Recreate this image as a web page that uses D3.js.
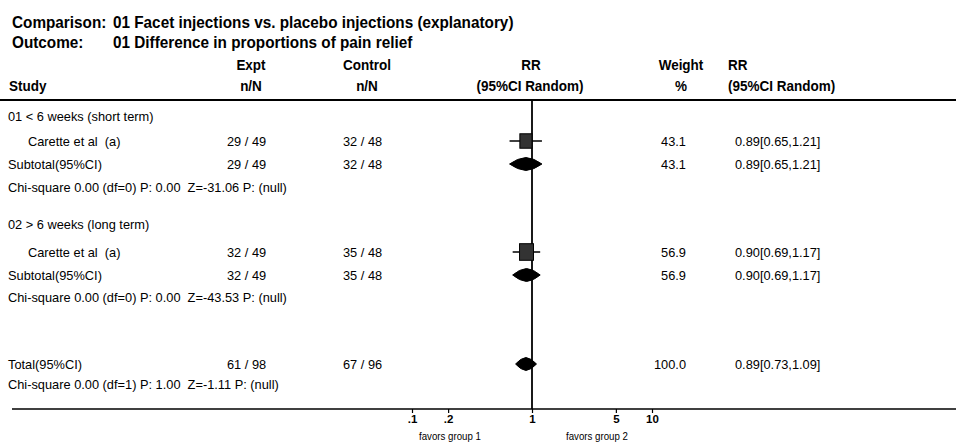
<!DOCTYPE html>
<html lang="en">
<head>
  <meta charset="UTF-8">
  <title>Facet injections vs. placebo injections</title>
  <script src="https://d3js.org/d3.v7.min.js"></script>
  <style>
    body { margin: 0; background: #fff; }
    svg text { fill: #000; white-space: pre; }
  </style>
</head>
<body>
  <svg width="956" height="443"></svg>

  <script>
    // Data
    const groupLabels = ["01 < 6 weeks (short term)", "02 > 6 weeks (long term)"];
    const studyLabels = ["Carette et al  (a)", "Carette et al  (a)"];
    const exptEvents = [29, 32];
    const exptTotal = [49, 49];
    const ctrlEvents = [32, 35];
    const ctrlTotal = [48, 48];
    const studyRR = [0.89, 0.90];
    const studyLo = [0.65, 0.69];
    const studyHi = [1.21, 1.17];
    const studyWeight = [43.1, 56.9];
    const chiTexts = [
      "Chi-square 0.00 (df=0) P: 0.00  Z=-31.06 P: (null)",
      "Chi-square 0.00 (df=0) P: 0.00  Z=-43.53 P: (null)"
    ];

    // Overall total
    const totalExpt = [61, 98];
    const totalCtrl = [67, 96];
    const totalRR = [0.89, 0.73, 1.09];
    const totalWeight = 100.0;
    const totalChi = "Chi-square 0.00 (df=1) P: 1.00  Z=-1.11 P: (null)";

    const tickValues = [0.1, 0.2, 1, 5, 10];
    const tickLabels = [".1", ".2", "1", "5", "10"];

    const svg = d3.select("svg");
    const font = "'Liberation Sans', Arial, sans-serif";

    // squeeze bold text horizontally so it looks like a narrow face
    function condense(sel, k) {
      sel.each(function () {
        const len = this.getComputedTextLength();
        d3.select(this).attr("textLength", len * k).attr("lengthAdjust", "spacingAndGlyphs");
      });
    }

    // Log scale for the RR axis
    const x = d3.scaleLog().domain([0.1, 10]).range([412, 652]);

    // Row positions (vertical centres)
    const rowY = {
      g0: 116, s0: 141, sub0: 164, chi0: 187,
      g1: 224, s1: 252, sub1: 275, chi1: 297,
      tot: 364, chiT: 384
    };

    const fmt2 = d3.format(".2f");
    const rrText = (m, l, h) => fmt2(m) + "[" + fmt2(l) + "," + fmt2(h) + "]";

    // Titles
    const title = svg.append("g")
      .style("font-family", font).style("font-weight", "bold").style("font-size", "17px");
    title.append("text").attr("x", 12).attr("y", 28).text("Comparison:");
    title.append("text").attr("x", 113).attr("y", 28).text("01 Facet injections vs. placebo injections (explanatory)");
    title.append("text").attr("x", 12).attr("y", 48).text("Outcome:");
    title.append("text").attr("x", 113).attr("y", 48).text("01 Difference in proportions of pain relief");
    condense(title.selectAll("text"), 0.9);

    // Column headers
    const hdr = svg.append("g")
      .style("font-family", font).style("font-weight", "bold").style("font-size", "15.5px");
    const headers = [
      { x: 251, y: 70, a: "middle", t: "Expt" },
      { x: 367, y: 70, a: "middle", t: "Control" },
      { x: 531, y: 70, a: "middle", t: "RR" },
      { x: 681, y: 70, a: "middle", t: "Weight" },
      { x: 728, y: 70, a: "start", t: "RR" },
      { x: 9, y: 91, a: "start", t: "Study" },
      { x: 251, y: 91, a: "middle", t: "n/N" },
      { x: 367, y: 91, a: "middle", t: "n/N" },
      { x: 530, y: 91, a: "middle", t: "(95%CI Random)" },
      { x: 681, y: 91, a: "middle", t: "%" },
      { x: 728, y: 91, a: "start", t: "(95%CI Random)" }
    ];
    hdr.selectAll("text").data(headers).join("text")
      .attr("x", d => d.x).attr("y", d => d.y)
      .attr("text-anchor", d => d.a).text(d => d.t);
    condense(hdr.selectAll("text"), 0.87);

    // Header rule and bottom rule
    svg.append("line").attr("x1", 0).attr("x2", 956).attr("y1", 100).attr("y2", 100)
      .attr("stroke", "#000").attr("stroke-width", 2);
    const axisY = 409;
    svg.append("line").attr("x1", 12).attr("x2", 956).attr("y1", axisY).attr("y2", axisY)
      .attr("stroke", "#000").attr("stroke-width", 1.5);

    // Line of no effect
    svg.append("line").attr("x1", x(1)).attr("x2", x(1)).attr("y1", 100).attr("y2", axisY)
      .attr("stroke", "#000").attr("stroke-width", 1.8);

    // Text rows
    const txt = svg.append("g")
      .style("font-family", font).style("font-size", "12.8px");
    function row(y, cells) {
      cells.forEach(c => {
        txt.append("text").attr("x", c[0]).attr("y", y + 4.5)
          .attr("text-anchor", c[2] || "start").text(c[1]);
      });
    }

    const weightScale = d3.scaleSqrt().domain([0, 100]).range([0, 22]);

    function diamond(y, m, l, h) {
      const hh = 6.5;
      svg.append("path")
        .attr("d", "M" + x(l) + "," + y +
                   "Q" + (x(l) + x(m)) / 2 + "," + (y - hh * 0.9) + " " + x(m) + "," + (y - hh) +
                   "Q" + (x(h) + x(m)) / 2 + "," + (y - hh * 0.9) + " " + x(h) + "," + y +
                   "Q" + (x(h) + x(m)) / 2 + "," + (y + hh * 0.9) + " " + x(m) + "," + (y + hh) +
                   "Q" + (x(l) + x(m)) / 2 + "," + (y + hh * 0.9) + " " + x(l) + "," + y + "Z")
        .attr("fill", "#000").attr("stroke", "#000").attr("stroke-width", 1)
        .attr("stroke-linejoin", "round");
    }

    function square(y, m, l, h, w) {
      svg.append("line").attr("x1", x(l)).attr("x2", x(h)).attr("y1", y).attr("y2", y)
        .attr("stroke", "#000").attr("stroke-width", 1.5);
      const s = weightScale(w);
      svg.append("rect")
        .attr("x", x(m) - s * 0.42).attr("y", y - s * 0.5)
        .attr("width", s * 0.84).attr("height", s)
        .attr("fill", "#333").attr("stroke", "#000").attr("stroke-width", 1);
    }

    groupLabels.forEach((g, i) => {
      row(rowY["g" + i], [[8, g]]);
      const en = exptEvents[i] + " / " + exptTotal[i];
      const cn = ctrlEvents[i] + " / " + ctrlTotal[i];
      const rt = rrText(studyRR[i], studyLo[i], studyHi[i]);
      const wt = d3.format(".1f")(studyWeight[i]);
      row(rowY["s" + i], [[28, studyLabels[i]], [227, en], [343, cn], [686, wt, "end"], [735, rt]]);
      row(rowY["sub" + i], [[8, "Subtotal(95%CI)"], [227, en], [343, cn], [686, wt, "end"], [735, rt]]);
      row(rowY["chi" + i], [[8, chiTexts[i]]]);
      square(rowY["s" + i], studyRR[i], studyLo[i], studyHi[i], studyWeight[i]);
      diamond(rowY["sub" + i], studyRR[i], studyLo[i], studyHi[i]);
    });

    row(rowY.tot, [[8, "Total(95%CI)"], [227, totalExpt.join(" / ")], [343, totalCtrl.join(" / ")],
      [686, d3.format(".1f")(totalWeight), "end"], [735, rrText(totalRR[0], totalRR[1], totalRR[2])]]);
    row(rowY.chiT, [[8, totalChi]]);
    diamond(rowY.tot, totalRR[0], totalRR[1], totalRR[2]);

    // Axis
    const axis = d3.axisBottom(x)
      .tickValues(tickValues)
      .tickFormat((d, i) => tickLabels[i])
      .tickSize(4).tickPadding(2);
    const ax = svg.append("g").attr("transform", "translate(0," + axisY + ")").call(axis);
    ax.select(".domain").remove();
    ax.selectAll(".tick line").attr("stroke", "#000").attr("stroke-width", 1.2);
    ax.selectAll(".tick text").attr("fill", "#000")
      .style("font-family", font).style("font-weight", "bold").style("font-size", "11.5px");

    const fav = svg.append("g").style("font-family", font).style("font-size", "11px");
    fav.selectAll("text")
      .data([{ x: 450, t: "favors group 1" }, { x: 597, t: "favors group 2" }])
      .join("text")
      .attr("x", d => d.x).attr("y", 440).attr("text-anchor", "middle").text(d => d.t);
    condense(fav.selectAll("text"), 0.88);
  </script>
</body>
</html>
